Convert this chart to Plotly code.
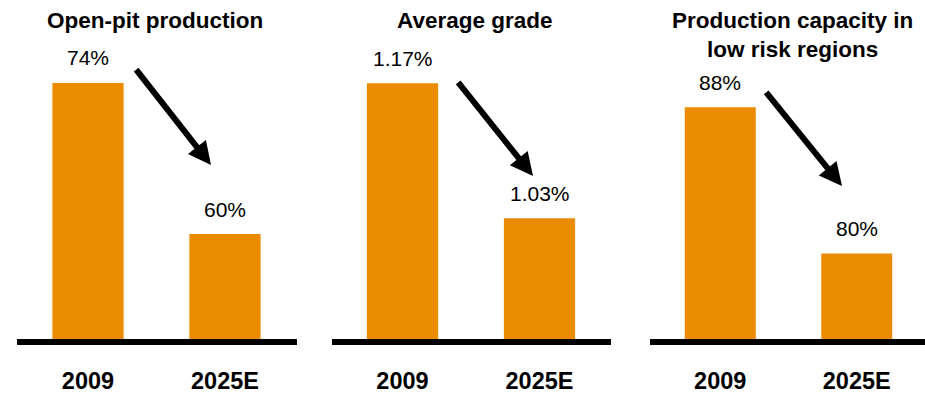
import plotly.graph_objects as go

# --- data -------------------------------------------------------------
years = ["2009", "2025E"]
panel_titles = ["Open-pit production", "Average grade", "Production capacity in<br>low risk regions"]
open_pit = [74, 60]          # %
avg_grade = [1.17, 1.03]     # %
low_risk = [88, 80]          # %
value_labels = [["74%", "60%"], ["1.17%", "1.03%"], ["88%", "80%"]]

series = [open_pit, avg_grade, low_risk]

# --- styling ----------------------------------------------------------
W, H = 925, 394
BOTTOM = 50                     # px below plot area
PLOT_H = H - BOTTOM
ORANGE = "#EB8C00"
FONT = "Liberation Sans, Arial, Helvetica, sans-serif"

x_domains = [[19.5 / W, 293.5 / W], [334 / W, 608 / W], [652 / W, 1.0]]
# truncated value axes (each panel has its own scale)
y_ranges = [[50, 81.68], [0.902, 1.2561], [75.15, 93.87]]
title_x = [154.5, 475.5, 792.5]
title_y = [21, 21, 35]
# arrow tips / tails in px
arrow_tip = [(211, 166), (533, 177), (842, 187)]
arrow_tail = [(135, 69), (457, 82), (765, 92)]
line_ext = [(-0.009, 1.0128), (-0.0073, 1.0109), (-0.0073, 1.03)]

fig = go.Figure()
annotations = []
shapes = []

for i, vals in enumerate(series):
    n = "" if i == 0 else str(i + 1)
    xa, ya = "x" + n, "y" + n
    fig.add_trace(go.Bar(
        x=years, y=vals, width=0.52,
        marker=dict(color=ORANGE, line=dict(width=0)),
        xaxis=xa, yaxis=ya, showlegend=False, hoverinfo="skip",
    ))
    fig.update_layout(**{
        "xaxis" + n: dict(
            domain=x_domains[i], anchor=ya, type="category", range=[-0.5, 1.5],
            showgrid=False, zeroline=False, showline=False, ticks="",
            tickfont=dict(family=FONT, size=23.5, color="#000000", weight="bold"),
            ticklabelstandoff=22,
        ),
        "yaxis" + n: dict(
            domain=[0, 1], anchor=xa, range=y_ranges[i],
            visible=False, showgrid=False, zeroline=False,
        ),
    })
    # value labels above bars (x given as category index)
    for j, v in enumerate(vals):
        annotations.append(dict(
            x=j, y=v, xref=xa, yref=ya, text=value_labels[i][j],
            showarrow=False, yanchor="middle", yshift=25,
            font=dict(family=FONT, size=21, color="#000000"),
        ))
    # panel title
    annotations.append(dict(
        x=title_x[i] / W, y=(PLOT_H - title_y[i]) / PLOT_H, xref="paper", yref="paper",
        text="<b>" + panel_titles[i] + "</b>", showarrow=False,
        xanchor="center", yanchor="middle",
        font=dict(family=FONT, size=22.5, color="#000000"),
    ))
    # downward arrow
    tx, ty = arrow_tip[i]
    sx, sy = arrow_tail[i]
    annotations.append(dict(
        x=tx / W, y=(PLOT_H - ty) / PLOT_H, xref="paper", yref="paper",
        ax=sx - tx, ay=sy - ty, axref="pixel", ayref="pixel",
        text="", showarrow=True, arrowhead=2, arrowsize=0.76,
        arrowwidth=6, arrowcolor="#000000", standoff=0,
    ))
    # baseline
    shapes.append(dict(
        type="line", xref=xa + " domain", yref=ya + " domain",
        x0=line_ext[i][0], x1=line_ext[i][1], y0=0, y1=0,
        line=dict(color="#000000", width=6), layer="above",
    ))

fig.update_layout(
    width=W, height=H,
    margin=dict(l=0, r=0, t=0, b=BOTTOM),
    paper_bgcolor="#FFFFFF", plot_bgcolor="#FFFFFF",
    font=dict(family=FONT, color="#000000"),
    annotations=annotations, shapes=shapes,
    bargap=0.48,
)

fig.write_html("out.html")
